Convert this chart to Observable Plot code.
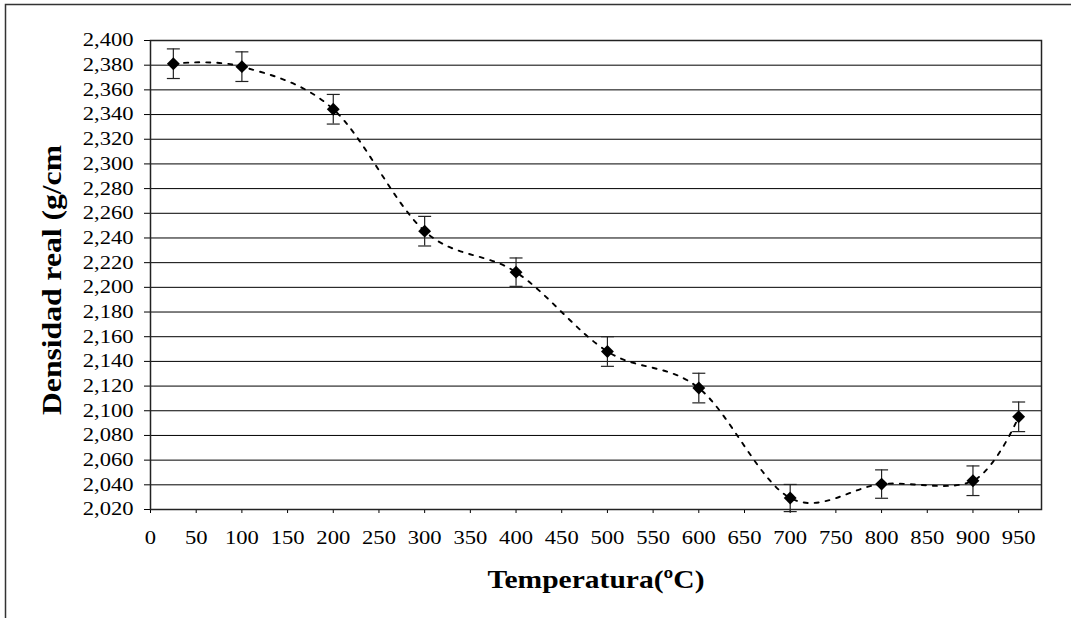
<!DOCTYPE html>
<html><head><meta charset="utf-8">
<script src="https://cdn.jsdelivr.net/npm/d3@7"></script>
<script src="https://cdn.jsdelivr.net/npm/@observablehq/plot@0.6"></script>
<style>
body{margin:0;background:#fff}
#chart{position:relative;width:1071px;height:618px;overflow:hidden;background:#fff}
</style>
</head><body><div id="chart"></div>
<script>
const temperatures = [25, 100, 200, 300, 400, 500, 600, 700, 800, 900, 950];
const density = [2.3812, 2.3788, 2.3443, 2.2455, 2.2123, 2.1480, 2.1184, 2.0293, 2.0406, 2.0433, 2.0951];
const errors = [0.012, 0.012, 0.012, 0.012, 0.0115, 0.012, 0.012, 0.011, 0.0115, 0.012, 0.012];
const xTicks = [0, 50, 100, 150, 200, 250, 300, 350, 400, 450, 500, 550, 600, 650, 700, 750, 800, 850, 900, 950];
const yTicks = [2.02, 2.04, 2.06, 2.08, 2.10, 2.12, 2.14, 2.16, 2.18, 2.20, 2.22, 2.24, 2.26, 2.28, 2.30, 2.32, 2.34, 2.36, 2.38, 2.40];
const xLabel = "Temperatura(ºC)";
const yLabel = "Densidad real (g/cm";

const data = temperatures.map((t, i) => ({t, d: density[i], e: errors[i]}));
const capSymbol = {draw(ctx) { ctx.moveTo(-6.5, 0); ctx.lineTo(6.5, 0); }};
const fmt = v => v.toFixed(3).replace(".", ",");
const serif = "'Liberation Serif','Times New Roman',serif";

const chart = Plot.plot({
  width: 1071, height: 618,
  marginLeft: 150, marginRight: 30, marginTop: 40, marginBottom: 109,
  style: {fontFamily: serif, fontSize: "18.5px", color: "#000", background: "#fff"},
  x: {domain: [0, 975], ticks: xTicks, tickFormat: d => String(d), tickSize: 4, tickPadding: 17, label: null},
  y: {domain: [2.02, 2.40], ticks: yTicks, tickFormat: fmt, tickSize: 6, tickPadding: 11, label: null},
  marks: [
    Plot.ruleY(yTicks, {stroke: "#000", strokeWidth: 1}),
    Plot.frame({stroke: "#222", strokeWidth: 1.5}),
    Plot.line(data, {x: "t", y: "d", curve: d3.curveCatmullRom.alpha(0), stroke: "#000", strokeWidth: 1.9, strokeDasharray: "4,7"}),
    Plot.ruleX(data, {x: "t", y1: d => d.d - d.e, y2: d => d.d + d.e, stroke: "#222", strokeWidth: 1.2}),
    Plot.dot(data, {x: "t", y: d => d.d + d.e, symbol: capSymbol, r: 5, stroke: "#222", strokeWidth: 1.2, fill: "none"}),
    Plot.dot(data, {x: "t", y: d => d.d - d.e, symbol: capSymbol, r: 5, stroke: "#222", strokeWidth: 1.2, fill: "none"}),
    Plot.dot(data, {x: "t", y: "d", symbol: "diamond2", r: 5.8, fill: "#000", stroke: "none"})
  ]
});
document.getElementById("chart").appendChild(chart);

const svg = d3.select(chart);
// stretch tick labels horizontally like the reference rendering
svg.selectAll("text").each(function() {
  const w = this.getComputedTextLength();
  this.setAttribute("textLength", (w * 1.22).toFixed(1));
  this.setAttribute("lengthAdjust", "spacingAndGlyphs");
});
// outer chart border
svg.insert("rect", ":first-child")
  .attr("x", 5.5).attr("y", 4.5).attr("width", 1100).attr("height", 700)
  .attr("fill", "none").attr("stroke", "#333").attr("stroke-width", 1.5);
// axis titles
const xt = svg.append("text")
  .attr("x", 596).attr("y", 588)
  .attr("text-anchor", "middle")
  .style("font-family", serif).style("font-weight", "bold").style("font-size", "26px")
  .attr("fill", "#000").text(xLabel);
xt.attr("textLength", 217).attr("lengthAdjust", "spacingAndGlyphs");
const yt = svg.append("text")
  .attr("transform", "translate(61,280) rotate(-90)")
  .attr("text-anchor", "middle")
  .style("font-family", serif).style("font-weight", "bold").style("font-size", "27px")
  .attr("fill", "#000").text(yLabel);
yt.attr("textLength", 270).attr("lengthAdjust", "spacingAndGlyphs");
</script>
</body></html>
